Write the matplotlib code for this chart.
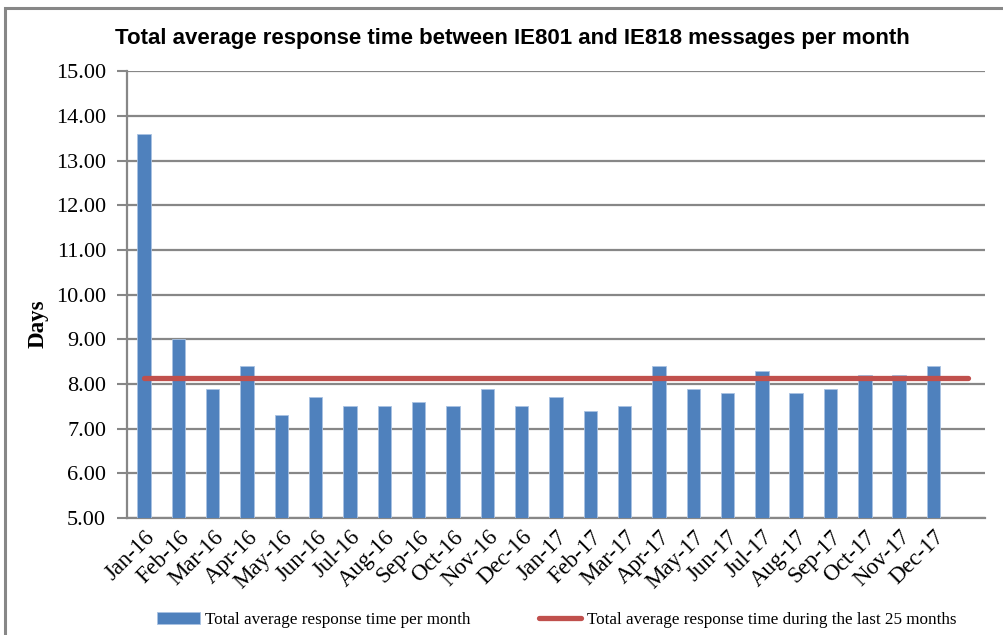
import matplotlib.pyplot as plt
from matplotlib.patches import Rectangle
import numpy as np

# months shown on the x axis (25 slots, last one without label)
meses = ['Jan-16', 'Feb-16', 'Mar-16', 'Apr-16', 'May-16', 'Jun-16', 'Jul-16',
         'Aug-16', 'Sep-16', 'Oct-16', 'Nov-16', 'Dec-16', 'Jan-17', 'Feb-17',
         'Mar-17', 'Apr-17', 'May-17', 'Jun-17', 'Jul-17', 'Aug-17', 'Sep-17',
         'Oct-17', 'Nov-17', 'Dec-17', '']

# average response time per month (days)
tempo_mes = [13.6, 9.0, 7.9, 8.4, 7.3, 7.7, 7.5, 7.5, 7.6, 7.5, 7.9, 7.5,
             7.7, 7.4, 7.5, 8.4, 7.9, 7.8, 8.3, 7.8, 7.9, 8.2, 8.2, 8.4]

# total average over the last 25 months (one value per slot)
media_total = [8.13] * 25

SERIF = ['Liberation Serif', 'DejaVu Serif']
TITULO = ['Liberation Sans Narrow', 'Liberation Sans', 'DejaVu Sans']
CINZA = '#878787'

fig = plt.figure(figsize=(10.04, 6.35), dpi=100)
ax = fig.add_axes([0.1265, 0.184, 0.8545, 0.704])

x = np.arange(len(meses))
barras = ax.bar(x[:len(tempo_mes)], tempo_mes, width=0.39, color='#4F81BD',
                edgecolor='#A9C2E2', linewidth=0.6, zorder=3)
linha, = ax.plot(x, media_total, color='#C0504D', linewidth=3.8,
                 solid_capstyle='round', zorder=4)

ax.set_xlim(-0.5, len(meses) - 0.5)
ax.set_ylim(5, 15)
ax.set_yticks(np.arange(5, 15.1, 1))
ax.set_yticklabels([f'{v:.2f}' for v in np.arange(5, 15.1, 1)],
                   family=SERIF, fontsize=16)
ax.set_xticks(x)
ax.set_xticklabels(meses, rotation=45, ha='right', rotation_mode='anchor',
                   family=SERIF, fontsize=16.5)
ax.tick_params(axis='x', length=0, pad=6)
ax.tick_params(axis='y', length=7, width=1.5, color=CINZA, pad=8)

ax.grid(axis='y', color=CINZA, linewidth=1.6, zorder=0)
for lado in ['top', 'right']:
    ax.spines[lado].set_visible(False)
for lado in ['left', 'bottom']:
    ax.spines[lado].set_color(CINZA)
    ax.spines[lado].set_linewidth(1.6)

ax.set_ylabel('Days', family=SERIF, fontsize=16.5, fontweight='bold')
ax.yaxis.set_label_coords(-0.092, 0.436)
fig.text(0.51, 0.94, 'Total average response time between IE801 and IE818 messages per month',
         ha='center', va='center', family=TITULO, fontsize=16, fontweight='bold')

fig.legend([barras, linha],
           ['Total average response time per month',
            'Total average response time during the last 25 months'],
           loc='center left', bbox_to_anchor=(0.148, 0.024), ncol=2,
           frameon=False, borderpad=0, prop={'family': SERIF, 'size': 12.3},
           handlelength=2.5, handletextpad=0.3, columnspacing=4.0)

# outer frame of the chart area
fig.patches.append(Rectangle((0.005, -0.05), 1.2, 0.037 + 0.95 + 0.05,
                             transform=fig.transFigure, fill=False,
                             edgecolor=CINZA, linewidth=2.2))

fig.savefig('out.png', dpi=100)
